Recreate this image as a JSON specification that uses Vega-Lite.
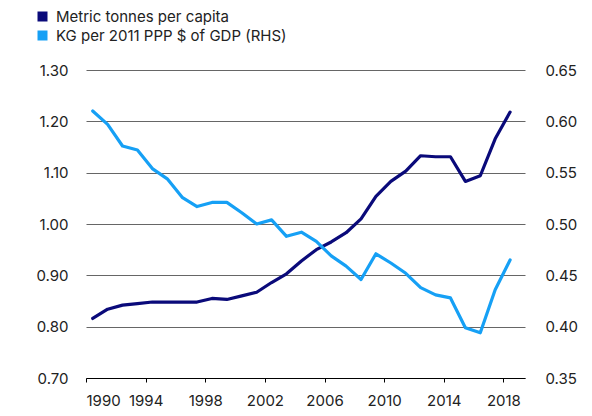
{
  "$schema": "https://vega.github.io/schema/vega-lite/v6.json",
  "width": 439,
  "height": 308,
  "autosize": {"type": "none"},
  "padding": {"left": 86, "top": 70, "right": 67, "bottom": 38},
  "background": "white",
  "config": {
    "font": "Inter",
    "view": {"stroke": null},
    "axis": {"labelFont": "Inter", "labelFontSize": 15, "labelColor": "#222", "title": null}
  },
  "data": {
    "values": [
      {"year": 1990, "tonnes": 0.816, "kg": 0.610},
      {"year": 1991, "tonnes": 0.834, "kg": 0.597},
      {"year": 1992, "tonnes": 0.842, "kg": 0.576},
      {"year": 1993, "tonnes": 0.845, "kg": 0.572},
      {"year": 1994, "tonnes": 0.848, "kg": 0.554},
      {"year": 1995, "tonnes": 0.848, "kg": 0.544},
      {"year": 1996, "tonnes": 0.848, "kg": 0.526},
      {"year": 1997, "tonnes": 0.848, "kg": 0.517},
      {"year": 1998, "tonnes": 0.855, "kg": 0.521},
      {"year": 1999, "tonnes": 0.853, "kg": 0.521},
      {"year": 2000, "tonnes": 0.860, "kg": 0.511},
      {"year": 2001, "tonnes": 0.867, "kg": 0.500},
      {"year": 2002, "tonnes": 0.886, "kg": 0.504},
      {"year": 2003, "tonnes": 0.903, "kg": 0.488},
      {"year": 2004, "tonnes": 0.928, "kg": 0.492},
      {"year": 2005, "tonnes": 0.950, "kg": 0.483},
      {"year": 2006, "tonnes": 0.965, "kg": 0.469},
      {"year": 2007, "tonnes": 0.983, "kg": 0.459},
      {"year": 2008, "tonnes": 1.010, "kg": 0.446},
      {"year": 2009, "tonnes": 1.054, "kg": 0.471},
      {"year": 2010, "tonnes": 1.083, "kg": 0.462},
      {"year": 2011, "tonnes": 1.103, "kg": 0.452},
      {"year": 2012, "tonnes": 1.133, "kg": 0.438},
      {"year": 2013, "tonnes": 1.131, "kg": 0.431},
      {"year": 2014, "tonnes": 1.131, "kg": 0.428},
      {"year": 2015, "tonnes": 1.083, "kg": 0.399},
      {"year": 2016, "tonnes": 1.094, "kg": 0.394},
      {"year": 2017, "tonnes": 1.166, "kg": 0.436},
      {"year": 2018, "tonnes": 1.218, "kg": 0.465}
    ]
  },
  "transform": [{"calculate": "datum.year + 0.45", "as": "pos"}],
  "encoding": {
    "x": {
      "field": "pos",
      "type": "quantitative",
      "scale": {"domain": [1990, 2019.45], "nice": false, "zero": false},
      "axis": {
        "values": [1990, 1994, 1998, 2002, 2006, 2010, 2014, 2018],
        "format": "d",
        "grid": false,
        "domain": true,
        "domainColor": "#000",
        "domainWidth": 1,
        "ticks": true,
        "tickColor": "#000",
        "tickSize": 4,
        "labelPadding": 11
      }
    },
    "color": {
      "type": "nominal",
      "scale": {
        "domain": ["Metric tonnes per capita", "KG per 2011 PPP $ of GDP (RHS)"],
        "range": ["#0a0a7a", "#16a0f5"]
      },
      "legend": {
        "orient": "none",
        "legendX": -51,
        "legendY": -61,
        "title": null,
        "symbolType": "square",
        "symbolSize": 100,
        "symbolStrokeWidth": 0,
        "labelFont": "Inter",
        "labelFontSize": 15,
        "labelColor": "#222",
        "labelOffset": 6,
        "rowPadding": 3,
        "labelLimit": 400,
        "encode": {
          "symbols": {"update": {"fill": {"scale": "color", "field": "value"}, "fillOpacity": {"value": 1}}}
        }
      }
    }
  },
  "layer": [
    {
      "mark": {"type": "line", "strokeWidth": 3.2, "strokeJoin": "round", "strokeCap": "round"},
      "encoding": {
        "y": {
          "field": "tonnes",
          "type": "quantitative",
          "scale": {"domain": [0.7, 1.3], "nice": false, "zero": false},
          "axis": {
            "orient": "left",
            "values": [0.7, 0.8, 0.9, 1.0, 1.1, 1.2, 1.3],
            "format": ".2f",
            "domain": false,
            "ticks": false,
            "grid": true,
            "gridColor": "#666",
            "gridWidth": 1,
            "labelPadding": 18
          }
        },
        "color": {"datum": "Metric tonnes per capita"}
      }
    },
    {
      "mark": {"type": "line", "strokeWidth": 3.2, "strokeJoin": "round", "strokeCap": "round"},
      "encoding": {
        "y": {
          "field": "kg",
          "type": "quantitative",
          "scale": {"domain": [0.35, 0.65], "nice": false, "zero": false},
          "axis": {
            "orient": "right",
            "values": [0.35, 0.4, 0.45, 0.5, 0.55, 0.6, 0.65],
            "format": ".2f",
            "domain": false,
            "ticks": false,
            "grid": false,
            "labelPadding": 20
          }
        },
        "color": {"datum": "KG per 2011 PPP $ of GDP (RHS)"}
      }
    }
  ],
  "resolve": {"scale": {"y": "independent"}}
}
